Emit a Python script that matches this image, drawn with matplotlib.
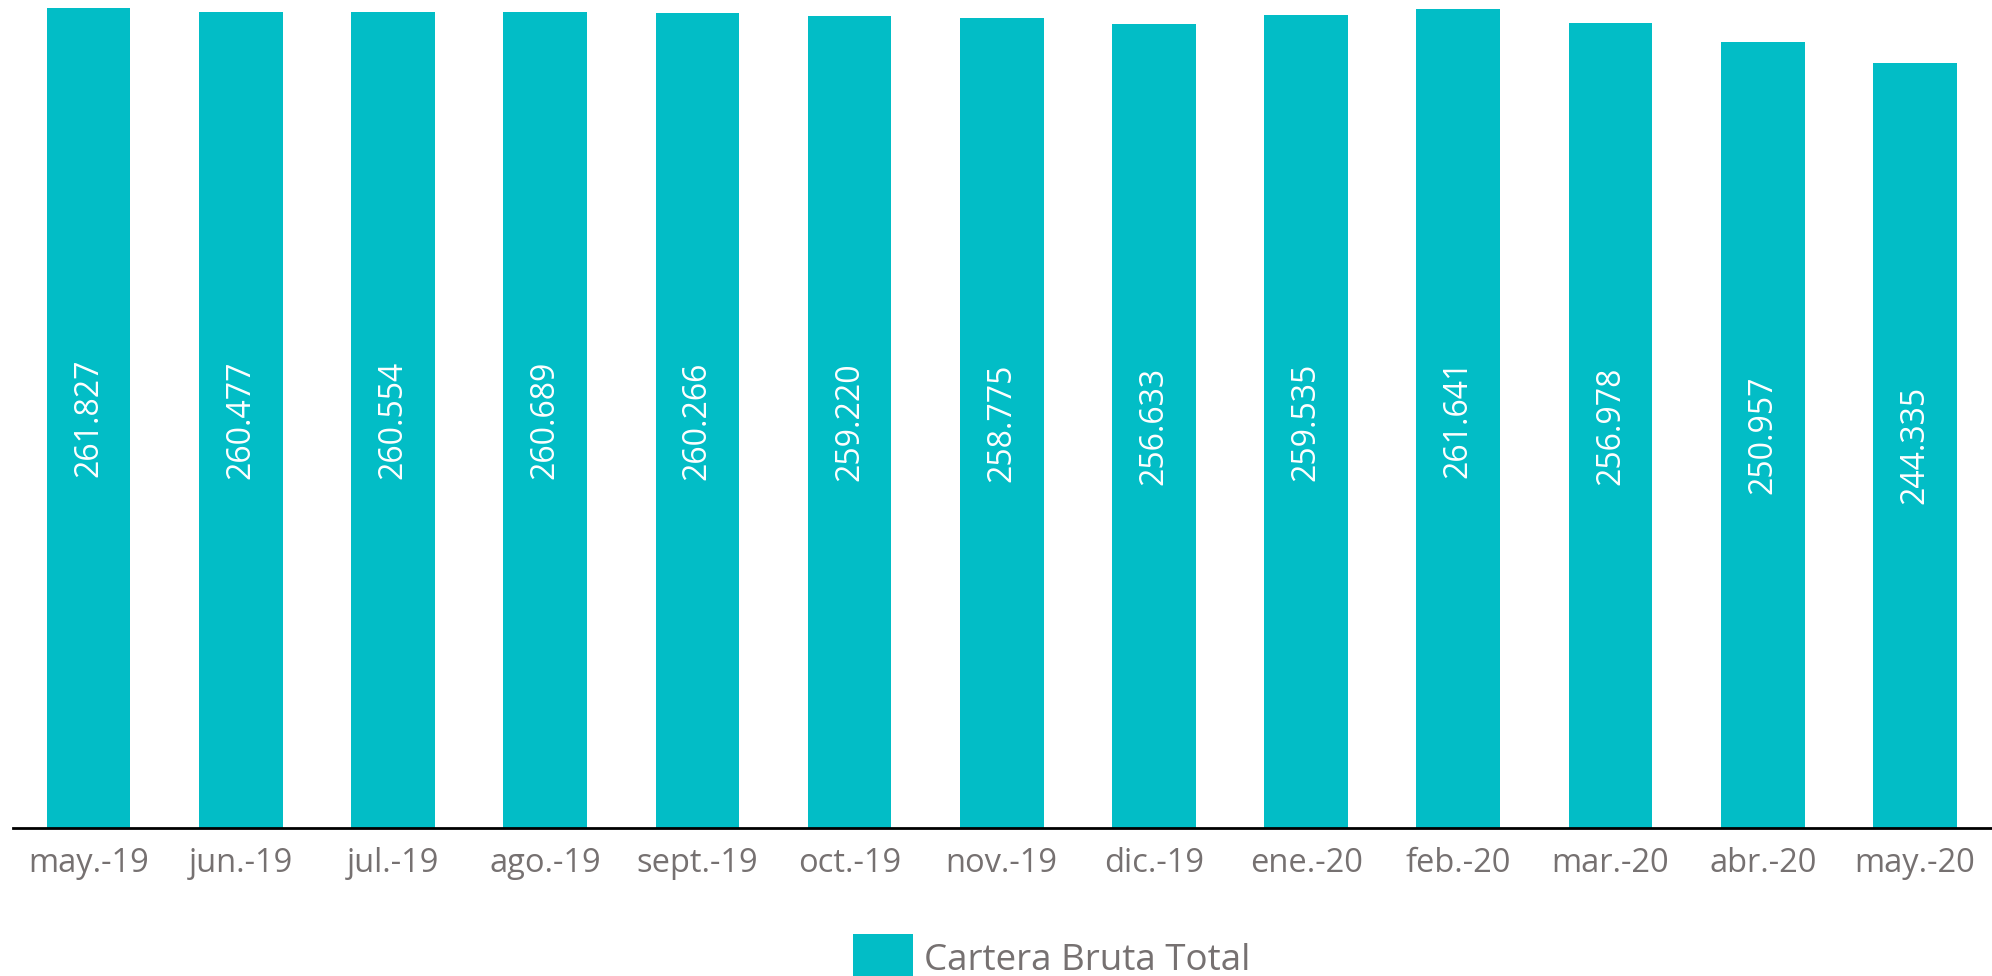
import matplotlib
matplotlib.use("Agg")
import matplotlib.pyplot as plt

# Cartera bruta total por mes
months = ["may.-19", "jun.-19", "jul.-19", "ago.-19", "sept.-19", "oct.-19",
          "nov.-19", "dic.-19", "ene.-20", "feb.-20", "mar.-20", "abr.-20", "may.-20"]
values = [261.827, 260.477, 260.554, 260.689, 260.266, 259.220,
          258.775, 256.633, 259.535, 261.641, 256.978, 250.957, 244.335]
labels = ["261.827", "260.477", "260.554", "260.689", "260.266", "259.220",
          "258.775", "256.633", "259.535", "261.641", "256.978", "250.957", "244.335"]
series_name = "Cartera Bruta Total"

bar_color = "#02BDC6"
text_gray = "#767171"

plt.rcParams["font.family"] = ["Open Sans", "DejaVu Sans"]

W, H = 1992, 976
fig = plt.figure(figsize=(W / 100, H / 100), dpi=100)
ax = fig.add_axes([12.5 / W, (H - 828) / H, (1991 - 12.5) / W, 828 / H])

x = range(len(months))
bars = ax.bar(x, values, width=0.55, color=bar_color, label=series_name)

# value labels inside the bars, rotated
for i, v in enumerate(values):
    ax.text(i, v / 2, labels[i], rotation=90, ha="center", va="center",
            color="white", fontsize=23)

ax.set_xlim(-0.5, len(months) - 0.5)
ax.set_ylim(0, 264.4)
ax.set_xticks(list(x))
ax.set_xticklabels(months, fontsize=23.5, color=text_gray)
ax.tick_params(axis="x", length=0, pad=14)
ax.set_yticks([])
for side in ["top", "right", "left"]:
    ax.spines[side].set_visible(False)
ax.spines["bottom"].set_color("black")
ax.spines["bottom"].set_linewidth(2)

fig.legend(handles=[bars], labels=[series_name], loc="upper left",
           bbox_to_anchor=(853 / W, 1 - 934 / H), frameon=False,
           fontsize=26.5, labelcolor=text_gray, borderpad=0, borderaxespad=0,
           handlelength=1.63, handleheight=1.63, handletextpad=0.3)

fig.savefig("out.png", dpi=100)
